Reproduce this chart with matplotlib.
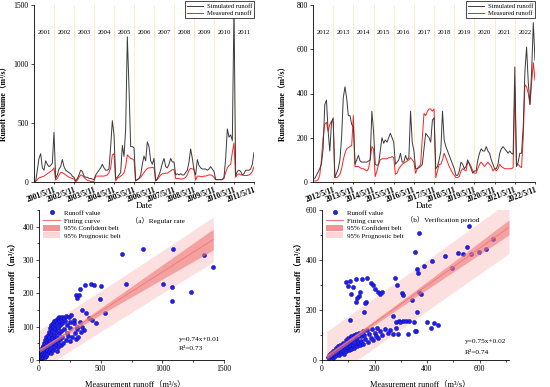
from typing import Final

import matplotlib.pyplot as plt
import numpy as np
from matplotlib.lines import Line2D
from matplotlib.patches import Patch

_DPI: Final = 100
_MONTHS: Final = 12
_SERIF: Final = ["Liberation Serif", "Noto Sans CJK SC"]

SIM_COLOR: Final = "#3a3a3a"
MEAS_COLOR: Final = "#ff2020"
YEAR_LINE_COLOR: Final = "#fbeccb"
DOT_COLOR: Final = "#1f1ff0"
FIT_COLOR: Final = "#f07878"
CONF_COLOR: Final = "#f07878"
PRED_COLOR: Final = "#fcd6d6"

# ---- calibration period (2001-2011), 12 samples per year
years_a = [str(y) for y in range(2001, 2012)]
dates_a = [f"{y}/5/11" for y in years_a]
sim_a = [
    5, 100, 200, 240, 120, 100, 180, 150, 130, 140, 160, 420,
    30, 60, 110, 130, 190, 130, 100, 90, 80, 70, 50, 40,
    10, 30, 60, 100, 90, 50, 40, 40, 30, 30, 25, 20,
    60, 80, 100, 120, 150, 120, 100, 100, 110, 300, 520, 400,
    30, 40, 60, 80, 310, 217, 450, 1230, 800, 300, 300, 290,
    10, 20, 30, 60, 150, 220, 180, 340, 300, 180, 150, 200,
    10, 30, 60, 100, 160, 200, 130, 120, 150, 200, 170, 170,
    60, 70, 60, 70, 60, 60, 80, 100, 170, 280, 200, 100,
    60, 190, 140, 120, 110, 110, 110, 100, 110, 130, 110, 90,
    20, 20, 20, 20, 20, 40, 200, 450, 380, 400, 350, 1490,
    50, 90, 100, 90, 60, 70, 100, 100, 100, 110, 150, 250,
]
meas_a = [
    5, 20, 35, 40, 45, 50, 60, 70, 80, 90, 100, 120,
    15, 30, 60, 80, 80, 70, 60, 50, 40, 35, 30, 25,
    0, 15, 40, 60, 55, 40, 25, 15, 10, 5, 5, 5,
    50, 50, 50, 50, 50, 50, 55, 60, 80, 120, 230, 240,
    10, 30, 40, 50, 60, 80, 130, 230, 215, 200, 195, 185,
    10, 20, 30, 40, 60, 80, 100, 115, 120, 120, 125, 120,
    10, 20, 40, 60, 70, 70, 75, 75, 85, 95, 105, 105,
    30, 30, 30, 25, 25, 30, 40, 60, 100, 115, 110, 110,
    15, 50, 50, 45, 45, 50, 50, 55, 60, 60, 55, 40,
    20, 20, 20, 20, 20, 30, 80, 120, 140, 150, 250, 330,
    40, 60, 70, 60, 60, 55, 55, 55, 60, 70, 90, 130,
]

# ---- verification period (2012-2022)
years_b = [str(y) for y in range(2012, 2023)]
dates_b = [f"{y}/5/11" for y in years_b]
sim_b = [
    15, 30, 45, 60, 80, 150, 350, 370, 230, 140, 270, 290,
    20, 40, 60, 100, 200, 380, 430, 380, 300, 300, 260, 250,
    80, 100, 120, 95, 90, 90, 90, 90, 95, 100, 320, 230,
    80, 75, 80, 140, 200, 175, 190, 180, 200, 220, 200, 180,
    80, 90, 100, 130, 90, 90, 120, 100, 110, 320, 180, 140,
    60, 60, 65, 70, 80, 150, 220, 210, 200, 180, 280, 290,
    60, 70, 100, 140, 320, 190, 160, 140, 120, 100, 80, 60,
    30, 30, 50, 90, 80, 60, 70, 100, 80, 60, 40, 50,
    50, 100, 130, 150, 140, 140, 160, 140, 130, 100, 80, 60,
    60, 80, 130, 150, 160, 150, 140, 130, 140, 130, 125, 520,
    70, 90, 130, 130, 250, 500, 610, 450, 350, 500, 720, 550,
]
meas_b = [
    5, 5, 10, 30, 100, 200, 260, 270, 230, 260, 275, 270,
    20, 20, 25, 35, 60, 100, 130, 150, 155, 160, 165, 300,
    70, 70, 70, 65, 60, 60, 55, 50, 60, 100, 160, 150,
    25, 50, 80, 100, 105, 105, 105, 105, 110, 110, 115, 110,
    35, 40, 60, 70, 80, 85, 90, 95, 100, 110, 100, 90,
    40, 60, 70, 80, 200, 310, 300, 320, 330, 330, 320, 330,
    20, 50, 80, 80, 100, 130, 110, 90, 70, 55, 40, 30,
    20, 20, 25, 50, 60, 55, 50, 90, 85, 70, 50, 40,
    40, 60, 80, 90, 80, 70, 80, 90, 80, 70, 50, 60,
    50, 60, 80, 70, 65, 60, 60, 60, 60, 60, 65, 430,
    75, 80, 70, 65, 200, 440, 430, 400, 350, 450, 540, 460,
]

# ---- scatter, calibration period (measurement runoff, simulated runoff)
scat_a_meas = [
    674, 845, 1090, 709, 1008, 1082, 1082, 1231, 1340, 1413,
    369, 418, 445, 336, 301, 309, 322, 500, 494, 533,
    350, 383, 404, 432, 459, 309, 363, 254, 281,
    5, 8, 10, 12, 15, 18, 20, 22, 25, 28, 30, 32, 35, 38, 40, 42, 45, 48,
    50, 52, 55, 58, 60, 62, 65, 68, 70, 72, 75, 78, 80, 82, 85, 88, 90,
    92, 95, 98, 100, 102, 105, 108, 110, 112, 115, 118, 120, 122, 125,
    128, 130, 132, 135, 138, 140, 142, 145, 148, 150, 152, 155, 158, 160,
    162, 165, 168, 170, 175, 178, 180, 185, 188, 190, 195, 200, 205, 210,
    215, 220, 225, 230, 238, 245, 250, 255, 262, 270, 280, 290, 300, 310,
    320, 330, 340, 350,
]
scat_a_sim = [
    319, 332, 334, 229, 229, 219, 177, 204, 316, 278,
    226, 229, 226, 214, 195, 187, 195, 221, 184, 141,
    150, 141, 126, 120, 110, 100, 90, 115, 120,
    5, 12, 3, 20, 8, 15, 28, 5, 18, 35, 10, 25, 42, 15, 30, 50, 8, 22,
    60, 38, 12, 45, 68, 28, 55, 18, 75, 40, 62, 25, 85, 50, 70, 32, 95,
    58, 78, 20, 105, 45, 88, 65, 30, 98, 110, 52, 75, 118, 40,
    92, 62, 105, 120, 48, 85, 28, 112, 70, 125, 55, 95, 38, 118,
    80, 128, 62, 105, 45, 122, 88, 130, 70, 110, 52, 125, 92, 118,
    60, 132, 80, 105, 72, 128, 58, 95, 135, 68, 110, 80, 62, 92,
    70, 115, 85, 100,
]

# ---- scatter, verification period
scat_b_meas = [
    558, 371, 353, 420, 390, 363, 367, 469, 516, 535, 552, 568, 596, 626,
    651, 494, 369, 377, 342, 363, 350, 356, 401, 414, 428, 442,
    108, 93, 99, 112, 118, 129, 144, 153, 173, 185, 194, 201, 213, 220,
    227, 169, 131, 141, 135, 163, 161, 278, 284, 303, 309, 271, 280, 295,
    310, 320, 330, 290, 326, 297, 354, 106,
    22, 25, 28, 30, 32, 35, 38, 40, 42, 45, 48, 50, 52, 55, 58, 60, 62,
    65, 68, 70, 72, 75, 78, 80, 82, 85, 88, 90, 92, 95, 98, 100, 102, 105,
    108, 110, 112, 115, 118, 120, 122, 125, 128, 130, 132, 135, 138, 140,
    145, 148, 150, 155, 158, 160, 165, 170, 175, 180, 185, 190, 195, 200,
    205, 210, 215, 220, 230, 240, 250, 260, 270, 280,
]
scat_b_sim = [
    537, 507, 433, 397, 375, 364, 348, 416, 428, 423, 452, 423, 431, 443,
    485, 367, 271, 265, 240, 193, 153, 116, 151, 129, 147, 140,
    316, 311, 297, 263, 293, 324, 273, 324, 327, 309, 300, 284, 271, 265,
    271, 231, 231, 257, 247, 227, 191, 329, 300, 267, 260, 177, 153, 155,
    157, 156, 158, 103, 103, 151, 117, 160,
    12, 20, 8, 25, 15, 30, 18, 10, 35, 22, 40, 15, 30, 48, 25, 38, 55,
    20, 45, 62, 30, 52, 40, 70, 25, 58, 45, 80, 35, 65, 50, 88, 40, 72,
    58, 95, 45, 78, 62, 100, 50, 85, 68, 105, 55, 90, 72, 110,
    60, 95, 78, 115, 65, 100, 85, 120, 72, 105, 90, 125, 80, 110,
    95, 130, 88, 115, 100, 125, 110, 120, 105, 130,
]

# ---- regression summary (line)
fit_a = dict(slope=0.236, intercept=28.0, x_min=5.0, x_max=1413.0,
             ts=60.0, n=132, x_mean=150.0, sxx=5.97e6)
fit_b = dict(slope=0.745, intercept=0.0, x_min=18.0, x_max=712.0,
             ts=100.0, n=132, x_mean=150.0, sxx=3.86e6)


def _style_axis(ax):
    for side in ("top", "right"):
        ax.spines[side].set_visible(False)
    for side in ("left", "bottom"):
        ax.spines[side].set_linewidth(0.6)
    ax.tick_params(which="both", direction="out", width=0.5, labelsize=5.5, pad=1.5)
    ax.tick_params(which="major", length=2.2)
    ax.tick_params(which="minor", length=1.2)


def _plot_series(ax, sim, meas, years, dates, y_max, y_step):
    x = np.arange(1, len(sim) + 1)
    bounds = np.arange(1, len(years) + 1) * _MONTHS
    for b in bounds:
        ax.axvline(b, color=YEAR_LINE_COLOR, lw=0.7, zorder=0)
    ax.plot(x, sim, color=SIM_COLOR, lw=0.7, label="Simulated runoff", zorder=3)
    ax.plot(x, meas, color=MEAS_COLOR, lw=0.7, label="Measured runoff", zorder=2)
    for i, year in enumerate(years):
        ax.text((i + 0.5) * _MONTHS, 0.845, year, transform=ax.get_xaxis_transform(),
                ha="center", va="center", fontsize=4.9)

    ax.set_xlim(0, len(years) * _MONTHS)
    ax.set_ylim(0, y_max)
    ax.set_yticks(np.arange(0, y_max + 1, y_step))
    ax.set_xticks(bounds)
    ax.set_xticklabels(dates, rotation=20, ha="right", rotation_mode="anchor",
                       fontsize=3.2, fontweight="bold")
    _style_axis(ax)
    ax.tick_params(axis="x", length=1.5, pad=1.5)
    ax.set_ylabel("Runoff volume（m³/s）", fontsize=5.6, fontweight="bold")
    ax.yaxis.set_label_coords(-0.115, 0.45)
    ax.legend(loc="upper right", bbox_to_anchor=(1.0, 1.02), fontsize=4.8,
              frameon=True, fancybox=False, edgecolor="black", framealpha=1,
              handlelength=2.4, borderpad=0.3, labelspacing=0.25,
              handletextpad=0.5, borderaxespad=0).get_frame().set_linewidth(0.5)


def _plot_scatter(ax, meas, sim, fit, x_max, x_major, x_minor, y_max, y_major, y_minor):
    xs = np.linspace(fit["x_min"], fit["x_max"], 200)
    line = fit["intercept"] + fit["slope"] * xs
    lev = 1 / fit["n"] + (xs - fit["x_mean"]) ** 2 / fit["sxx"]
    conf = fit["ts"] * np.sqrt(lev)
    pred = fit["ts"] * np.sqrt(1 + lev)

    ax.fill_between(xs, line - pred, line + pred, color=PRED_COLOR, lw=0, alpha=0.75, zorder=1)
    ax.scatter(meas, sim, s=9, color=DOT_COLOR, edgecolor="#0a0a9a", linewidth=0.3, zorder=2)
    ax.fill_between(xs, line - conf, line + conf, color=CONF_COLOR, lw=0, alpha=0.6, zorder=3)
    ax.plot(xs, line, color=FIT_COLOR, lw=0.6, zorder=4)

    ax.set_xlim(0, x_max)
    ax.set_ylim(0, y_max)
    ax.set_xticks(np.arange(0, x_max + 1, x_major))
    ax.set_xticks(np.arange(0, x_max + 1, x_minor), minor=True)
    ax.set_yticks(np.arange(0, y_max + 1, y_major))
    ax.set_yticks(np.arange(0, y_max + 1, y_minor), minor=True)
    _style_axis(ax)

    handles = [
        Line2D([], [], ls="none", marker="o", ms=3.2, color=DOT_COLOR, mec="#0a0a9a", mew=0.3),
        Line2D([], [], color=FIT_COLOR, lw=0.8),
        Patch(facecolor=CONF_COLOR, alpha=0.8, lw=0),
        Patch(facecolor=PRED_COLOR, lw=0),
    ]
    labels = ["Runoff value", "Fitting curve", "95% Confident belt", "95% Prognostic belt"]
    ax.legend(handles, labels, loc="upper left", bbox_to_anchor=(0.0, 1.03), fontsize=5,
              frameon=False, handlelength=2.4, handleheight=1.0, labelspacing=0.15,
              handletextpad=0.6, borderaxespad=0.2)
    ax.set_xlabel("Measurement runoff（m³/s）", fontsize=6)
    ax.set_ylabel("Simulated runoff（m³/s）", fontsize=6, fontweight="bold")


plt.rcParams["font.family"] = _SERIF

fig = plt.figure(figsize=(550 / _DPI, 387 / _DPI), dpi=_DPI)

ax_ts_a = fig.add_axes((34 / 550, 1 - 182 / 387, 220 / 550, 177 / 387))
ax_ts_b = fig.add_axes((313 / 550, 1 - 182 / 387, 222 / 550, 177 / 387))
ax_sc_a = fig.add_axes((39 / 550, 27 / 387, 185 / 550, 150 / 387))
ax_sc_b = fig.add_axes((322 / 550, 27 / 387, 187 / 550, 150 / 387))

_plot_series(ax_ts_a, sim_a, meas_a, years_a, dates_a, 1500, 500)
_plot_series(ax_ts_b, sim_b, meas_b, years_b, dates_b, 800, 200)

_plot_scatter(ax_sc_a, scat_a_meas, scat_a_sim, fit_a, 1500, 500, 250, 450, 100, 50)
_plot_scatter(ax_sc_b, scat_b_meas, scat_b_sim, fit_b, 712, 200, 100, 600, 200, 100)
ax_sc_a.yaxis.set_label_coords(-0.124, 0.5)
ax_sc_a.xaxis.set_label_coords(0.52, -0.135)
ax_sc_b.yaxis.set_label_coords(-0.105, 0.5)
ax_sc_b.xaxis.set_label_coords(0.525, -0.135)

fig.text(144 / 550, 1 - 206 / 387, "Date", ha="center", va="center", fontsize=6.5)
fig.text(424 / 550, 1 - 206 / 387, "Date", ha="center", va="center", fontsize=6.5)
fig.text(158 / 550, 1 - 220 / 387, "（a）Regular rate", ha="center", va="center", fontsize=5.2)
fig.text(443 / 550, 1 - 219 / 387, "（b）Verification period", ha="center", va="center", fontsize=5.2)

fig.text(179 / 550, 1 - 339 / 387, "y=0.74x+0.01", ha="left", va="center", fontsize=5.3)
fig.text(179 / 550, 1 - 349 / 387, "R²=0.73", ha="left", va="center", fontsize=5.3)
fig.text(465 / 550, 1 - 342 / 387, "y=0.75x+0.02", ha="left", va="center", fontsize=5.3)
fig.text(465 / 550, 1 - 352 / 387, "R²=0.74", ha="left", va="center", fontsize=5.3)

fig.savefig("out.png", dpi=_DPI)
